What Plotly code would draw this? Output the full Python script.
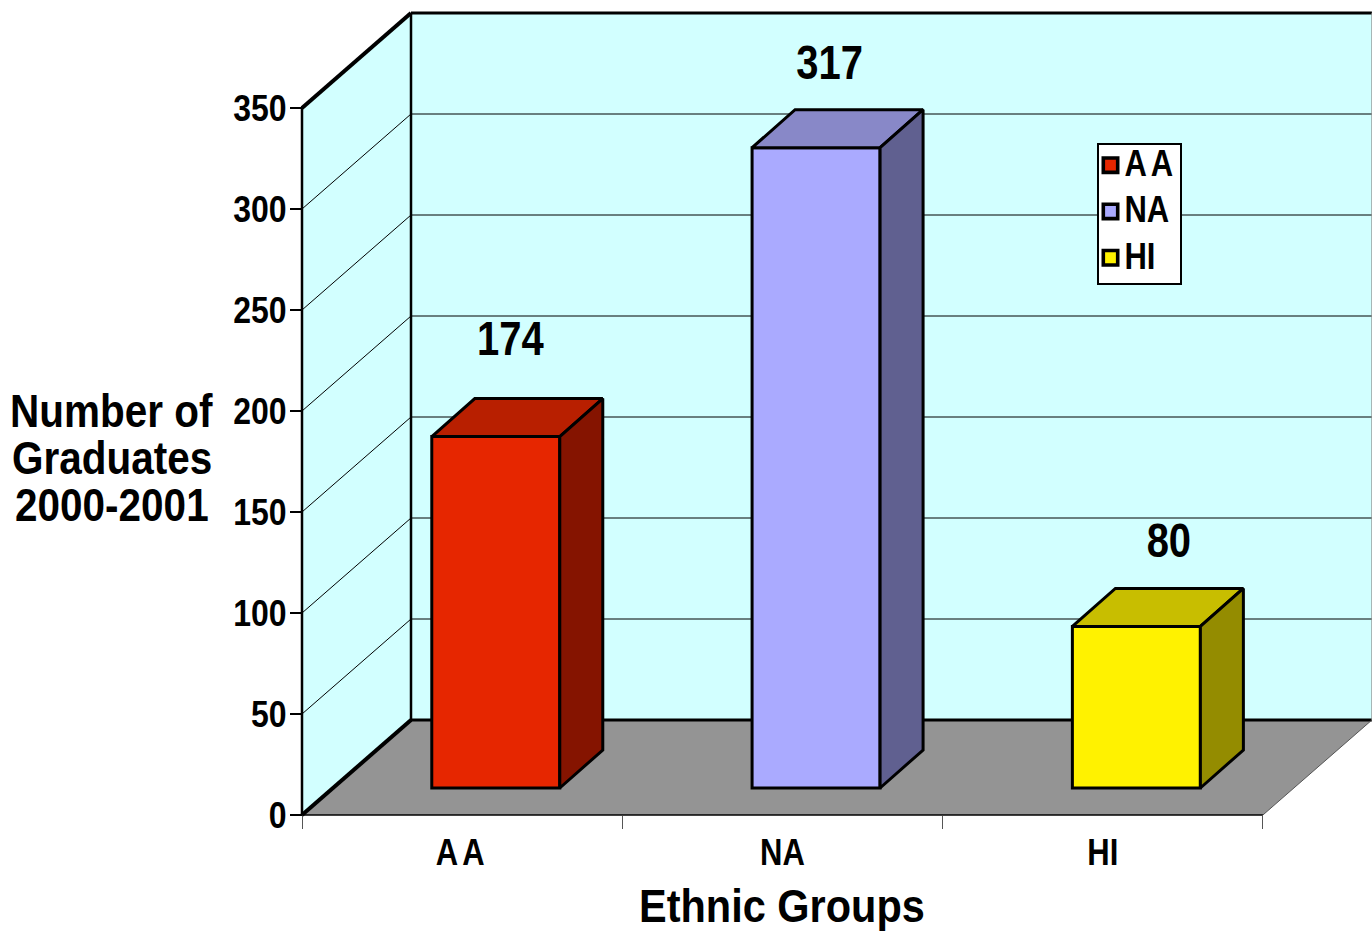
import plotly.graph_objects as go

# ---- data ----
categories = ["AA", "NA", "HI"]
graduates = [174, 317, 80]
y_ticks = [0, 50, 100, 150, 200, 250, 300, 350]
y_title_lines = ["Number of", "Graduates", "2000-2001"]
x_title = "Ethnic Groups"

# ---- style ----
front_colors = ["#E62600", "#AAAAFF", "#FFF200"]
top_colors = ["#B81F00", "#8888C8", "#C8BE00"]
side_colors = ["#851400", "#606090", "#948C00"]
WALL = "#D2FFFF"
FLOOR = "#949494"
FONT = "Liberation Sans, Arial, sans-serif"

# ---- scales: one category = 320.3 px, one graduate = 2.02 px ----
W, H = 1372, 931
PX_X, PX_Y = 320.3, 2.02
X0_PX, Y0_PX = 302, 815
x_range = [-X0_PX / PX_X, (W - X0_PX) / PX_X]
y_range = [-(H - Y0_PX) / PX_Y, Y0_PX / PX_Y]

# pseudo-3D projection
WALL_DX, WALL_DY = 109 / PX_X, 95 / PX_Y
BAR_DX, BAR_DY = 43 / PX_X, 38 / PX_Y
BAR_BASE = 27 / PX_Y
BAR_W = 128 / PX_X
BAR_SHIFT = 0.605
N = len(categories)
YMAX = y_ticks[-1]
LABEL_DX = [14.5 / PX_X, 13.5 / PX_X, 32.5 / PX_X]
LABEL_DY = [94 / PX_Y, 81 / PX_Y, 82 / PX_Y]


def poly(points, fill):
    path = "M" + "L".join(f"{x},{y}" for x, y in points) + "Z"
    return dict(type="path", path=path, xref="x", yref="y", fillcolor=fill,
                line=dict(width=0), layer="below")


def seg(x0, y0, x1, y1, width=1, color="#000000"):
    return dict(type="line", x0=x0, y0=y0, x1=x1, y1=y1, xref="x", yref="y",
                line=dict(color=color, width=width), layer="below")


shapes = [
    poly([(0, 0), (0, YMAX), (WALL_DX, YMAX + WALL_DY), (WALL_DX, WALL_DY)], WALL),
    poly([(WALL_DX, WALL_DY), (WALL_DX, YMAX + WALL_DY),
          (N + WALL_DX, YMAX + WALL_DY), (N + WALL_DX, WALL_DY)], WALL),
    poly([(0, 0), (WALL_DX, WALL_DY), (N + WALL_DX, WALL_DY), (N, 0)], FLOOR),
]
for t in y_ticks[1:-1]:
    shapes.append(seg(0, t, WALL_DX, t + WALL_DY, 1))
    shapes.append(seg(WALL_DX, t + WALL_DY, N + WALL_DX, t + WALL_DY, 1))
shapes += [
    seg(0, 0, 0, YMAX, 2.5),
    seg(WALL_DX, WALL_DY, WALL_DX, YMAX + WALL_DY, 2.5),
    seg(0, YMAX, WALL_DX, YMAX + WALL_DY, 4),
    seg(WALL_DX, YMAX + WALL_DY, N + WALL_DX, YMAX + WALL_DY, 3),
    seg(0, 0, WALL_DX, WALL_DY, 4),
    seg(WALL_DX, WALL_DY, N + WALL_DX, WALL_DY, 3),
    seg(0, 0, N, 0, 1.5),
    seg(N, 0, N + WALL_DX, WALL_DY, 1, "#555555"),
    seg(N + WALL_DX, WALL_DY, N + WALL_DX, YMAX + WALL_DY, 1, "#888888"),
]

fig = go.Figure()

for i, (cat, val) in enumerate(zip(categories, graduates)):
    cx = i + BAR_SHIFT
    fig.add_trace(go.Bar(
        x=[cx], y=[val], base=BAR_BASE, width=BAR_W, name=cat, legendgroup=cat,
        marker=dict(color=front_colors[i], line=dict(color="#000000", width=3)),
        hoverinfo="skip",
    ))
    l, r = cx - BAR_W / 2, cx + BAR_W / 2
    b, t = BAR_BASE, BAR_BASE + val
    fig.add_trace(go.Scatter(
        x=[l, l + BAR_DX, r + BAR_DX, r, l],
        y=[t, t + BAR_DY, t + BAR_DY, t, t],
        fill="toself", fillcolor=top_colors[i], mode="lines",
        line=dict(color="#000000", width=3), showlegend=False, hoverinfo="skip",
    ))
    fig.add_trace(go.Scatter(
        x=[r, r + BAR_DX, r + BAR_DX, r, r],
        y=[t, t + BAR_DY, b + BAR_DY, b, t],
        fill="toself", fillcolor=side_colors[i], mode="lines",
        line=dict(color="#000000", width=3), showlegend=False, hoverinfo="skip",
    ))

fig.add_trace(go.Scatter(
    x=[i + BAR_SHIFT + LABEL_DX[i] for i in range(N)],
    y=[graduates[i] + BAR_BASE + LABEL_DY[i] for i in range(N)],
    text=[str(v) for v in graduates],
    mode="text", textposition="middle center",
    textfont=dict(family=FONT, size=40, color="#000000", weight="bold"),
    showlegend=False, hoverinfo="skip", cliponaxis=False,
))

title_y_px = [411, 458, 505]
annotations = [
    dict(text=f"<b>{line}</b>", x=112 / W, y=1 - py / H, xref="paper", yref="paper",
         xanchor="center", yanchor="middle", showarrow=False,
         font=dict(family=FONT, size=40.5, color="#000000"))
    for line, py in zip(y_title_lines, title_y_px)
]
annotations.append(
    dict(text=f"<b>{x_title}</b>", x=782 / W, y=1 - 905 / H, xref="paper", yref="paper",
         xanchor="center", yanchor="middle", showarrow=False,
         font=dict(family=FONT, size=41.5, color="#000000"))
)

fig.update_layout(
    width=W, height=H, margin=dict(l=0, r=0, t=0, b=0, pad=0),
    paper_bgcolor="#FFFFFF", plot_bgcolor="#FFFFFF",
    shapes=shapes, barmode="overlay",
    font=dict(family=FONT, color="#000000"),
    xaxis=dict(
        range=x_range, domain=[0, 1], anchor="free", position=(H - Y0_PX) / H,
        tickmode="array", tickvals=[i + 0.5 for i in range(N)], ticktext=categories,
        ticks="outside", ticklen=10, tickcolor="rgba(0,0,0,0)", tickwidth=1,
        tickfont=dict(family=FONT, size=31, color="#000000", weight="bold"),
        minor=dict(tickmode="array", tickvals=list(range(N + 1)), ticks="outside",
                   ticklen=13, tickcolor="#555555", tickwidth=1, showgrid=False),
        showgrid=False, zeroline=False, showline=False, fixedrange=True,
    ),
    yaxis=dict(
        range=y_range, domain=[0, 1], anchor="free", position=X0_PX / W,
        tickmode="array", tickvals=y_ticks,
        ticks="outside", ticklen=12, tickcolor="#000000", tickwidth=1.5,
        ticklabelstandoff=-3,
        tickfont=dict(family=FONT, size=32, color="#000000", weight="bold"),
        showgrid=False, zeroline=False, showline=False, fixedrange=True,
    ),
    legend=dict(
        x=1097 / W, y=1 - 143 / H, xanchor="left", yanchor="top",
        bgcolor="#FFFFFF", bordercolor="#000000", borderwidth=1.5,
        font=dict(family=FONT, size=31, color="#000000", weight="bold"),
        itemwidth=30, tracegroupgap=3,
    ),
    annotations=annotations,
)

# The reference's text is stretched vertically, and its legend is tighter than
# plotly's minimum item width allows; both are settled once the page has drawn.
post = """
document.body.style.margin='0';
document.body.style.overflow='hidden';
var gd=document.querySelector('.js-plotly-plot');
gd.querySelectorAll('.legend .legendtext').forEach(function(t){
  t.setAttribute('x', parseFloat(t.getAttribute('x'))-14);
  t.setAttribute('y', parseFloat(t.getAttribute('y')||0)-9);
});
gd.querySelectorAll('.legend .legendpoints').forEach(function(p){
  p.setAttribute('transform','translate(-12,-6) scale(1.2)');
});
var bg=gd.querySelector('.legend rect.bg');
if(bg){bg.setAttribute('width',83);bg.setAttribute('height',140);}
gd.querySelectorAll('svg text').forEach(function(t){
  if(t.textContent==='AA'){t.style.letterSpacing='4px';}
  var sy=t.closest('.annotation')?1.12:1.18;
  var b=t.getBBox(), cx=b.x+b.width/2, cy=b.y+b.height/2, old=t.getAttribute('transform')||'';
  t.setAttribute('transform',old+' translate('+cx+','+cy+') scale(1,'+sy+') translate('+(-cx)+','+(-cy)+')');
});
"""
fig.write_html("out.html", config={"displayModeBar": False}, post_script=post)
